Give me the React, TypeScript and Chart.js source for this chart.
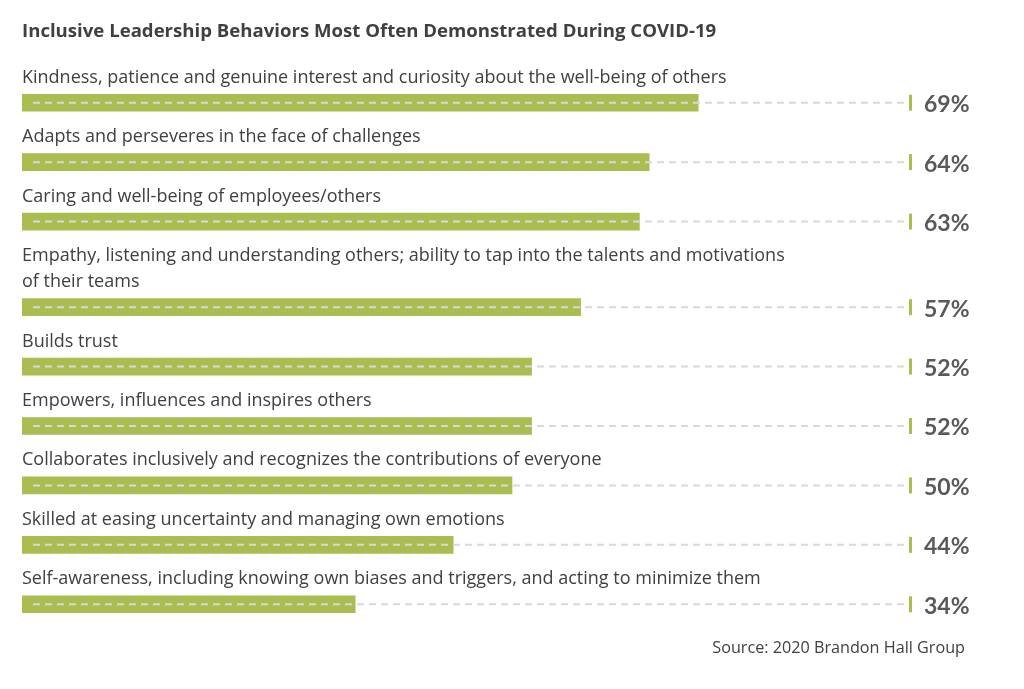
import { useEffect, useRef } from 'react';
import { Chart, registerables } from 'chart.js';

Chart.register(...registerables);

const TITLE = 'Inclusive Leadership Behaviors Most Often Demonstrated During COVID-19';
const SOURCE = 'Source: 2020 Brandon Hall Group';

const categories: string[][] = [
  ['Kindness, patience and genuine interest and curiosity about the well-being of others'],
  ['Adapts and perseveres in the face of challenges'],
  ['Caring and well-being of employees/others'],
  [
    'Empathy, listening and understanding others; ability to tap into the talents and motivations',
    'of their teams',
  ],
  ['Builds trust'],
  ['Empowers, influences and inspires others'],
  ['Collaborates inclusively and recognizes the contributions of everyone'],
  ['Skilled at easing uncertainty and managing own emotions'],
  ['Self-awareness, including knowing own biases and triggers, and acting to minimize them'],
];

const values = [69, 64, 63, 57, 52, 52, 50, 44, 34];
const valueLabels = ['69%', '64%', '63%', '57%', '52%', '52%', '50%', '44%', '34%'];
const TRACK_MAX = 90;

const GREEN = '#a9bd50';
const DASH = '#d9d9d9';
const TEXT = '#404040';
const PCT = '#595959';
const LABEL_FONT = '"Open Sans", "Noto Sans", sans-serif';
const PCT_FONT = 'Lato, "Open Sans", sans-serif';

export default function App() {
  const ref = useRef<HTMLCanvasElement>(null);

  useEffect(() => {
    const lineStep = 0.44;
    let extra = 0;
    const positions = categories.map((lines, i) => {
      extra += (lines.length - 1) * lineStep;
      return i + extra;
    });
    const last = positions[positions.length - 1];

    const decor = {
      id: 'decor',
      afterDatasetsDraw(chart: any) {
        const { ctx, scales } = chart;
        const xs = scales.x;
        const ys = scales.y;
        const x0 = xs.getPixelForValue(0);
        const xEnd = xs.getPixelForValue(TRACK_MAX);
        ctx.save();
        // title
        ctx.fillStyle = TEXT;
        ctx.font = `bold 18.6px ${LABEL_FONT}`;
        ctx.textAlign = 'left';
        ctx.textBaseline = 'alphabetic';
        ctx.fillText(TITLE, x0, 37);

        categories.forEach((lines, i) => {
          const y = ys.getPixelForValue(positions[i]);
          // dashed track
          ctx.save();
          ctx.setLineDash([7, 5]);
          ctx.strokeStyle = DASH;
          ctx.lineWidth = 2;
          ctx.beginPath();
          ctx.moveTo(x0 + 11, y);
          ctx.lineTo(xEnd, y);
          ctx.stroke();
          ctx.restore();
          // tick
          ctx.fillStyle = GREEN;
          ctx.fillRect(xEnd + 5, y - 8, 3, 16);
          // value label
          ctx.fillStyle = PCT;
          ctx.font = `bold 23px ${PCT_FONT}`;
          ctx.textAlign = 'left';
          ctx.textBaseline = 'middle';
          ctx.fillText(valueLabels[i], xEnd + 20, y + 2);
          // category label
          ctx.fillStyle = TEXT;
          ctx.font = `18px ${LABEL_FONT}`;
          ctx.textBaseline = 'alphabetic';
          const n = lines.length;
          lines.forEach((line, k) => {
            ctx.fillText(line, x0, y - 20 - (n - 1 - k) * 26);
          });
        });

        // source
        ctx.fillStyle = TEXT;
        ctx.font = `16.2px ${LABEL_FONT}`;
        ctx.textAlign = 'right';
        ctx.textBaseline = 'alphabetic';
        ctx.fillText(SOURCE, 965, 653);
        ctx.restore();
      },
    };

    const chart = new Chart(ref.current!, {
      type: 'bar',
      data: {
        datasets: [
          {
            data: values.map((v, i) => ({ x: v, y: positions[i] })) as any,
            backgroundColor: GREEN,
            borderWidth: 0,
            barThickness: 17,
          },
        ],
      },
      options: {
        indexAxis: 'y',
        animation: false,
        responsive: false,
        maintainAspectRatio: false,
        devicePixelRatio: 1,
        layout: { padding: { left: 22, right: 22, top: 73, bottom: 55 } },
        scales: {
          x: { type: 'linear', min: 0, max: 100, display: false },
          y: { type: 'linear', min: -0.5, max: last + 0.5, reverse: true, display: false, offset: false },
        },
        plugins: {
          legend: { display: false },
          tooltip: { enabled: false },
          title: { display: false },
        },
      },
      plugins: [decor],
    });
    return () => chart.destroy();
  }, []);

  return (
    <div style={{ position: 'absolute', left: 0, top: 0, width: 1024, height: 689, background: '#fff' }}>
      <canvas ref={ref} width={1024} height={689} style={{ width: 1024, height: 689, display: 'block' }} />
    </div>
  );
}
